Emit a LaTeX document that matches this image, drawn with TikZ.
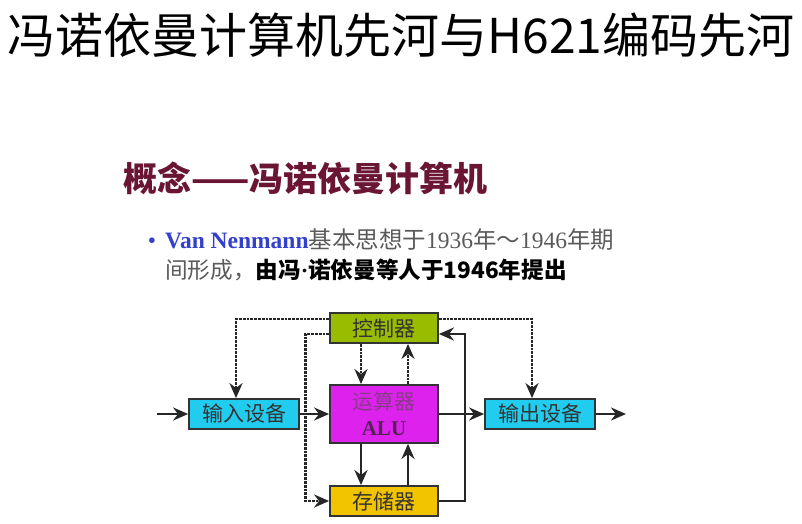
\documentclass[tikz,border=0pt]{standalone}
\usepackage{fontspec}
\setmainfont{Liberation Serif}
\newfontfamily\cjk{Noto Sans CJK SC}
\usetikzlibrary{arrows.meta,calc}
\definecolor{ink}{HTML}{333333}
\definecolor{maroon}{HTML}{6B1535}
\definecolor{vnblue}{HTML}{3340CC}
\definecolor{soft}{HTML}{5A5A5A}
\definecolor{ctrlfill}{HTML}{99BB00}
\definecolor{alufill}{HTML}{DD22EE}
\definecolor{memfill}{HTML}{F2C400}
\definecolor{iofill}{HTML}{22CCEE}
\definecolor{alutext}{HTML}{8A3A8A}
\tikzset{every node/.style={text=ink,inner sep=0pt},
unit/.style={draw=black!80,line width=1.8pt,minimum width=108pt,minimum height=30pt,
font=\cjk\fontsize{21}{24}\selectfont,align=center},
arr/.style={-{Stealth[length=15pt,width=13pt]},draw=black!85,line width=2.8pt},
darr/.style={arr,densely dotted}}
\begin{document}
\begin{tikzpicture}[x=1pt,y=-1pt]
\useasboundingbox (0,0) rectangle (802,523);
\node[text=black,font=\cjk\fontsize{48}{54}\selectfont] (title) at (401,35) {冯诺依曼计算机先河与H621编码先河};
\node[anchor=west,text=maroon,font=\cjk\bfseries\fontsize{34}{38}\selectfont] (concept) at (123,178) {概念——冯诺依曼计算机};
\node[anchor=west,font=\fontsize{23.5}{26}\selectfont] (line1) at (165,240)
{\llap{\textcolor{vnblue}{•}\hspace{9pt}}\textcolor{vnblue}{\bfseries Van Nenmann}\textcolor{soft}{{\cjk 基本思想于}1936{\cjk 年～}1946{\cjk 年期}}};
\node[anchor=west,font=\fontsize{22.6}{26}\selectfont] (line2) at (165,270)
{\textcolor{soft}{\cjk 间形成，}\textcolor{black}{\cjk\bfseries 由冯{\rmfamily·}诺依曼等人于1946年提出}};
\node[unit,fill=ctrlfill] (ctrl) at (384,328) {控制器};
\node[unit,fill=alufill,minimum height=58pt] (alu) at (384,414)
{\textcolor{alutext}{运算器}\\[2pt]\textcolor{alutext!60!black}{\rmfamily\bfseries ALU}};
\node[unit,fill=memfill] (mem) at (384,501) {存储器};
\node[unit,fill=iofill,minimum width=110pt] (in) at (244,414) {输入设备};
\node[unit,fill=iofill,minimum width=110pt] (out) at (540,414) {输出设备};
\coordinate (src) at (157,414);
\coordinate (snk) at (626,414);
\draw[arr] (src)--(in);
\draw[arr] (out)--(snk);
\draw[arr] (in)--(alu);
\draw[arr] (alu)--(out);
\draw[darr] ([yshift=9pt]ctrl.west) -| ([xshift=-8pt]in.north);
\draw[darr] ([yshift=9pt]ctrl.east) -| ([xshift=-8pt]out.north);
\draw[darr] ([yshift=-6pt]ctrl.west) -- ++(-24,0) |- (mem.west);
\draw[darr] ([xshift=-23pt]ctrl.south)--([xshift=-23pt]alu.north);
\draw[darr] ([xshift=24pt]alu.north)--([xshift=24pt]ctrl.south);
\draw[arr] ([xshift=-23pt]alu.south)--([xshift=-23pt]mem.north);
\draw[arr] ([xshift=24pt]mem.north)--([xshift=24pt]alu.south);
\draw[arr] (mem.east) -- ++(26,0) |- ([yshift=-6pt]ctrl.east);
\end{tikzpicture}
\end{document}
